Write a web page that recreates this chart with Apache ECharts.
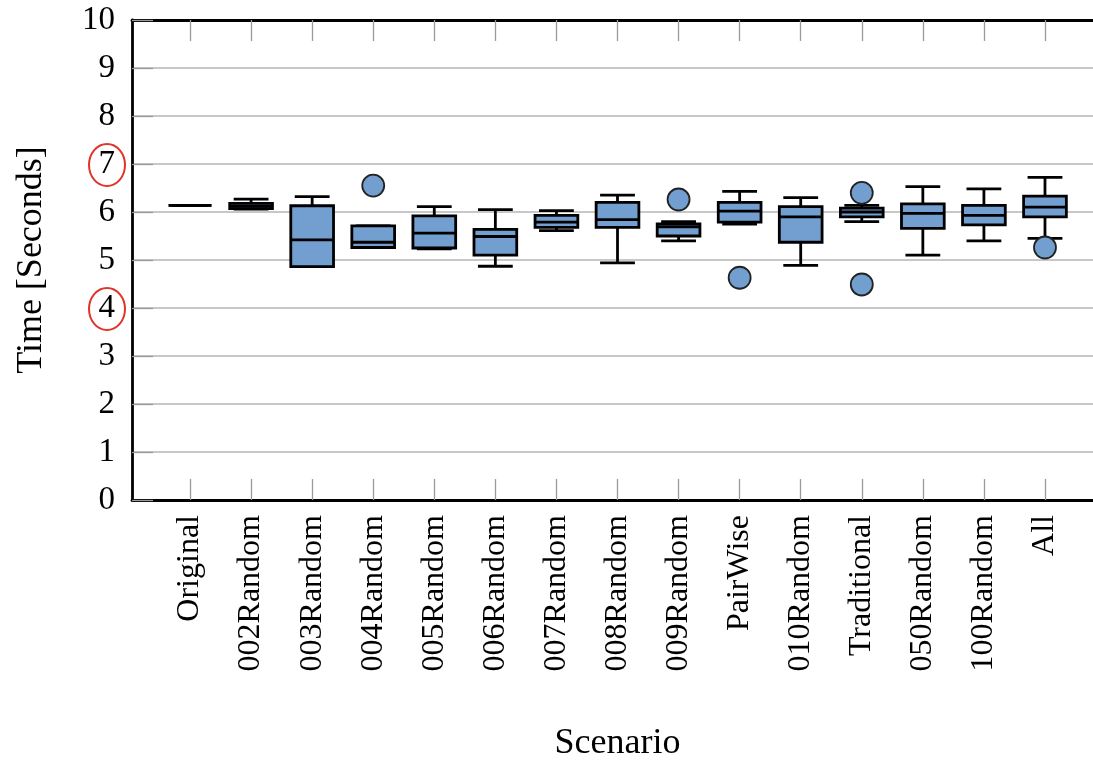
<!DOCTYPE html>
<html>
<head>
<meta charset="utf-8">
<script src="https://cdn.jsdelivr.net/npm/echarts@6/dist/echarts.min.js"></script>
<style>
  html, body { margin: 0; padding: 0; background: #fff; }
  #chart { width: 1093px; height: 761px; }
</style>
</head>
<body>
<div id="chart"></div>
<script>
// scenarios along the x axis
const categories = ['Original', '002Random', '003Random', '004Random', '005Random', '006Random',
  '007Random', '008Random', '009Random', 'PairWise', '010Random', 'Traditional',
  '050Random', '100Random', 'All']

// box statistics, seconds
const mins    = [6.14, 6.06, 4.86, 5.26, 5.23, 4.87, 5.61, 4.94, 5.40, 5.75, 4.89, 5.80, 5.10, 5.40, 5.45]
const q1s     = [6.14, 6.07, 4.86, 5.26, 5.25, 5.10, 5.68, 5.68, 5.50, 5.79, 5.37, 5.90, 5.66, 5.73, 5.90]
const medians = [6.14, 6.12, 5.42, 5.37, 5.56, 5.49, 5.79, 5.84, 5.69, 6.02, 5.90, 6.00, 5.97, 5.93, 6.10]
const q3s     = [6.14, 6.18, 6.13, 5.71, 5.92, 5.64, 5.93, 6.20, 5.75, 6.20, 6.11, 6.08, 6.17, 6.14, 6.33]
const maxs    = [6.14, 6.27, 6.32, 5.71, 6.11, 6.05, 6.03, 6.35, 5.80, 6.43, 6.30, 6.14, 6.53, 6.48, 6.72]

// outliers: category index + value
const outlierCats   = [3, 8, 9, 11, 11, 14]
const outlierValues = [6.55, 6.26, 4.63, 6.40, 4.49, 5.26]

const yTicks = [0, 1, 2, 3, 4, 5, 6, 7, 8, 9, 10]
const circledTicks = [7, 4]

const boxColor = '#729fcf'
const font = '"Liberation Serif", "DejaVu Serif", serif'
const catIdx = categories.map((c, i) => i)

const chart = echarts.init(document.getElementById('chart'), null, { renderer: 'canvas' })

const boxData = categories.map((c, i) => [i, mins[i], q1s[i], medians[i], q3s[i], maxs[i]])
const outlierData = outlierCats.map((c, i) => [c, outlierValues[i]])

function renderBox(params, api) {
  const x = api.value(0)
  const pMin = api.coord([x, api.value(1)])
  const pQ1 = api.coord([x, api.value(2)])
  const pMed = api.coord([x, api.value(3)])
  const pQ3 = api.coord([x, api.value(4)])
  const pMax = api.coord([x, api.value(5)])
  const boxW = api.size([0.7, 0])[0]
  const capW = api.size([0.57, 0])[0]
  const cx = pMin[0]
  const ls = { stroke: '#000', lineWidth: 2.8, fill: null }
  return {
    type: 'group',
    children: [
      { type: 'line', shape: { x1: cx, y1: pMax[1], x2: cx, y2: pQ3[1] }, style: ls },
      { type: 'line', shape: { x1: cx, y1: pQ1[1], x2: cx, y2: pMin[1] }, style: ls },
      { type: 'line', shape: { x1: cx - capW / 2, y1: pMax[1], x2: cx + capW / 2, y2: pMax[1] }, style: ls },
      { type: 'line', shape: { x1: cx - capW / 2, y1: pMin[1], x2: cx + capW / 2, y2: pMin[1] }, style: ls },
      {
        type: 'rect',
        shape: { x: cx - boxW / 2, y: pQ3[1], width: boxW, height: pQ1[1] - pQ3[1] },
        style: { fill: boxColor, stroke: '#000', lineWidth: 2.8 },
      },
      { type: 'line', shape: { x1: cx - boxW / 2, y1: pMed[1], x2: cx + boxW / 2, y2: pMed[1] }, style: ls },
    ],
  }
}

const tickStyle = { color: '#9a9a9a', width: 1.3 }

chart.setOption({
  animation: false,
  backgroundColor: '#fff',
  grid: { left: 132, right: -10, top: 20, bottom: 261, containLabel: false, outerBoundsMode: 'none' },
  xAxis: [
    {
      type: 'value',
      position: 'bottom',
      min: -0.95,
      max: 14.95,
      name: 'Scenario',
      nameLocation: 'middle',
      nameGap: 226,
      nameTextStyle: { fontFamily: font, fontSize: 36, color: '#000', verticalAlign: 'top' },
      axisLine: { show: true, onZero: false, lineStyle: { color: '#000', width: 2.8 } },
      axisTick: { show: true, inside: true, length: 21, customValues: catIdx, lineStyle: tickStyle },
      axisLabel: {
        show: true,
        customValues: catIdx,
        rotate: 90,
        margin: 15,
        fontFamily: font,
        fontSize: 32,
        color: '#000',
        formatter: (v) => categories[Math.round(v)] || '',
      },
      splitLine: { show: false },
    },
    {
      type: 'value',
      position: 'top',
      min: -0.95,
      max: 14.95,
      axisLine: { show: true, onZero: false, lineStyle: { color: '#000', width: 2.8 } },
      axisTick: { show: true, inside: true, length: 21, customValues: catIdx, lineStyle: tickStyle },
      axisLabel: { show: false },
      splitLine: { show: false },
    },
  ],
  yAxis: {
    type: 'value',
    min: 0,
    max: 10,
    interval: 1,
    name: 'Time [Seconds]',
    nameLocation: 'middle',
    nameRotate: 90,
    nameGap: 82,
    nameTextStyle: { fontFamily: font, fontSize: 36, color: '#000' },
    axisLine: { show: true, onZero: false, lineStyle: { color: '#000', width: 2.8 } },
    axisTick: { show: true, inside: true, length: 21, customValues: yTicks, lineStyle: tickStyle },
    axisLabel: {
      margin: 17,
      fontFamily: font,
      fontSize: 33,
      color: '#000',
      customValues: yTicks,
    },
    splitLine: { show: true, lineStyle: { color: '#c8c8c8', width: 2 } },
  },
  series: [
    {
      type: 'custom',
      renderItem: renderBox,
      encode: { x: 0, y: [1, 2, 3, 4, 5] },
      data: boxData,
      z: 3,
    },
    {
      type: 'scatter',
      data: outlierData,
      symbol: 'circle',
      symbolSize: 22,
      itemStyle: { color: boxColor, borderColor: '#222', borderWidth: 1.8, opacity: 1 },
      z: 4,
    },
  ],
})

// red circles drawn around the highlighted tick labels
chart.setOption({
  graphic: circledTicks.map((v) => {
    const y = chart.convertToPixel({ yAxisIndex: 0 }, v)
    return {
      type: 'ellipse',
      shape: { cx: 107, cy: y + 1, rx: 18, ry: 21 },
      style: { fill: null, stroke: '#e0352b', lineWidth: 2 },
      z: 10,
    }
  }),
})
</script>
</body>
</html>
